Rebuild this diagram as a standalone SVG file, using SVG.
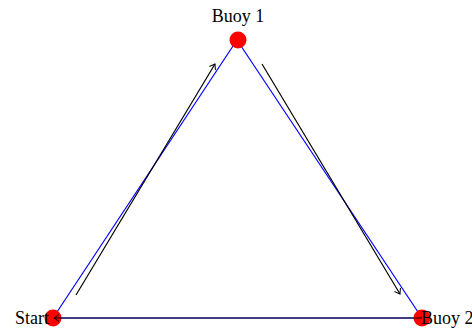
<svg xmlns="http://www.w3.org/2000/svg" width="472" height="329" viewBox="0 0 472 329">
<style>
.edge{stroke:#0000ff;stroke-width:1.2;fill:none}
.arr{stroke:#000;stroke-width:1.2;fill:none;marker-end:url(#ah)}
.buoy{fill:#ff0000}
.lbl{font-family:"Liberation Serif",serif;font-size:18px;fill:#000}
</style>
<defs>
<marker id="ah" viewBox="-6 -5 8 10" markerWidth="8" markerHeight="10" refX="0" refY="0" orient="auto" markerUnits="userSpaceOnUse">
<path d="M-5,-3.5 Q-1.5,-1 0,0 Q-1.5,1 -5,3.5" stroke="#000" stroke-width="1" fill="none"/>
</marker>
</defs>
<g id="course">
<line class="edge" x1="53" y1="318" x2="237" y2="40"/>
<line class="edge" x1="237" y1="40" x2="422" y2="318"/>
<line class="edge" x1="53" y1="318" x2="422" y2="318"/>
</g>
<g id="start"><circle class="buoy" cx="53" cy="318" r="8.5"/><text class="lbl" x="49" y="324" text-anchor="end">Start</text></g>
<g id="buoy1"><circle class="buoy" cx="238" cy="40" r="8.5"/><text class="lbl" x="238" y="22" text-anchor="middle">Buoy 1</text></g>
<g id="buoy2"><circle class="buoy" cx="422" cy="318" r="8.5"/><text class="lbl" x="421" y="324">Buoy 2</text></g>
<g id="connectors">
<line class="arr" x1="76" y1="295" x2="215" y2="64"/>
<line class="arr" x1="262" y1="64" x2="400" y2="294"/>
<line class="arr" x1="422" y1="318" x2="54" y2="318"/>
</g>
</svg>
